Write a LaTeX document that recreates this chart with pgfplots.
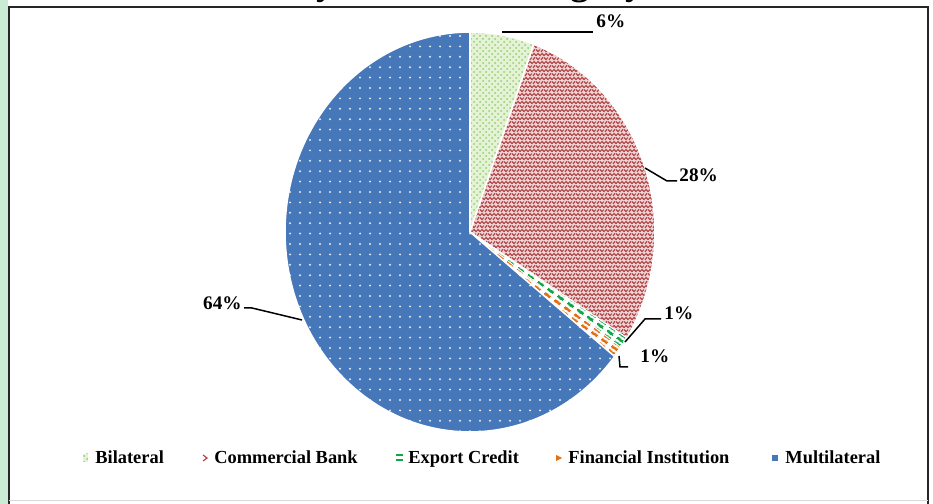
\documentclass[border=0pt]{standalone}
\usepackage{pgfplots}
\pgfplotsset{compat=1.18}
\usepackage{pgfplotstable}
\usepackage{fontspec}
\setmainfont{Liberation Serif}
\usetikzlibrary{patterns,patterns.meta}

\definecolor{framegreen}{RGB}{202,236,212}
\definecolor{blueM}{RGB}{70,120,185}
\definecolor{redC}{RGB}{180,70,72}
\definecolor{pinkC}{RGB}{240,212,212}
\definecolor{greenB}{RGB}{150,205,110}
\definecolor{greenBbg}{RGB}{228,242,214}
\definecolor{greenE}{RGB}{20,165,75}
\definecolor{orangeF}{RGB}{228,110,20}

\tikzdeclarepattern{
  name=wdots, type=uncolored,
  bounding box={(-2.5pt,-2.6pt) and (2.5pt,2.6pt)},
  tile size={(5pt,5.2pt)},
  code={\fill (0,0) circle (0.55pt);}
}
\tikzdeclarepattern{
  name=weave, type=uncolored,
  bounding box={(-0.5pt,-0.5pt) and (4.5pt,4.5pt)},
  tile size={(4pt,4pt)},
  code={\draw[line width=0.6pt] (0,0.2pt) -- (1pt,1.2pt) -- (2pt,0.2pt) -- (3pt,1.2pt) -- (4pt,0.2pt);
        \draw[line width=0.6pt] (0,3.2pt) -- (1pt,2.2pt) -- (2pt,3.2pt);
        \draw[line width=0.6pt] (2.5pt,2pt) -- (3.5pt,3.4pt);}
}
\tikzdeclarepattern{
  name=rdash, type=uncolored,
  bounding box={(0,0) and (6pt,2.6pt)},
  tile size={(6pt,2.6pt)},
  tile transformation={rotate=-35},
  code={\fill (0,0.4pt) rectangle (3.8pt,2.1pt);}
}

% cumulative percentages: start, end
\newcommand{\pieslice}[3]{%
  \filldraw[#3] (axis cs:0,0) -- (axis cs:{cos(90-3.6*#1)},{sin(90-3.6*#1)})
    arc[start angle={90-3.6*#1}, end angle={90-3.6*#2}, x radius=92.5pt, y radius=100pt] -- cycle;}

\begin{document}
\begin{tikzpicture}[x=0.5pt,y=0.5pt]
\useasboundingbox (0,0) rectangle (933,504);
\clip (0,0) rectangle (933,504);
\fill[white] (0,0) rectangle (933,504);
\fill[framegreen] (0,0) rectangle (8,504);
\node[anchor=base east, font=\fontsize{19}{22}\selectfont\bfseries, inner sep=0pt] at (645,509) {Debt Stock by Creditor Category};
\draw[line width=1pt, black!85] (9,-2) -- (9,497) -- (928,497) -- (928,-2);
\draw[black!15, line width=0.5pt] (9,3) -- (928,3);

\begin{axis}[at={(142.5pt,36pt)}, anchor=south west, scale only axis,
  width=185pt, height=200pt, xmin=-1, xmax=1, ymin=-1, ymax=1,
  hide axis, clip=false]
% shares (%): Bilateral 5.6, Commercial Bank 28.3, Export Credit 0.9,
% Financial Institution 0.9, Multilateral 64.3
\pieslice{0}{5.6}{draw=white, line width=0.8pt, preaction={fill=greenBbg}, pattern=crosshatch dots, pattern color=greenB}
\pieslice{5.6}{33.9}{draw=white, line width=0.8pt, preaction={fill=pinkC}, pattern=weave, pattern color=redC}
\pieslice{33.9}{34.8}{draw=white, line width=0.4pt, preaction={fill=white}, pattern=rdash, pattern color=greenE}
\pieslice{34.8}{35.7}{draw=white, line width=0.4pt, preaction={fill=white}, pattern=rdash, pattern color=orangeF}
\pieslice{35.7}{100}{draw=white, line width=0.8pt, preaction={fill=blueM}, pattern=wdots, pattern color=white!85!blueM}
\end{axis}

% data labels
\begin{scope}[every node/.style={font=\fontsize{9.6}{11}\selectfont\bfseries, inner sep=0pt}]
\draw[line width=0.75pt] (502,472) -- (593,472);
\node[anchor=base west] at (596,476) {6\%};
\draw[line width=0.75pt] (645,336) -- (667,323) -- (677,323);
\node[anchor=base west] at (679,322) {28\%};
\draw[line width=0.75pt] (625,162) -- (645,185) -- (661,185);
\node[anchor=base west] at (664,184) {1\%};
\draw[line width=0.75pt] (619,148) -- (620,137) -- (628,137);
\node[anchor=base west] at (640,141) {1\%};
\draw[line width=0.75pt] (302,184) -- (252,196) -- (244,196);
\node[anchor=base east] at (242,194) {64\%};
\end{scope}

% legend
\begin{scope}[every node/.style={font=\fontsize{9.2}{11}\selectfont\bfseries, inner sep=0pt, anchor=base west}]
\fill[greenBbg] (83,42) rectangle (88,50);
\fill[pattern=crosshatch dots, pattern color=greenB] (83,42) rectangle (88,50);
\node at (95,40) {Bilateral};
\draw[redC, line width=0.6pt] (203,49) -- (207,46) -- (203,43);
\node at (214,40) {Commercial Bank};
\fill[greenE] (396,48) rectangle (403,50);
\fill[greenE] (396,43) rectangle (403,45);
\node at (408,40) {Export Credit};
\fill[orangeF] (556,49) -- (562,46) -- (556,43) -- cycle;
\node at (568,40) {Financial Institution};
\fill[blueM] (772,43) rectangle (778,49);
\node at (785,40) {Multilateral};
\end{scope}
\end{tikzpicture}
\end{document}
